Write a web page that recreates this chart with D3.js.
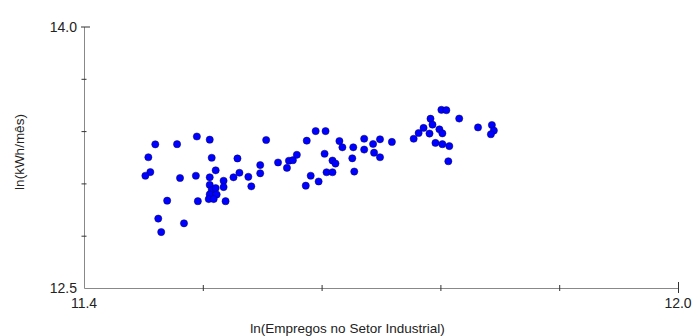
<!DOCTYPE html>
<html>
<head>
<meta charset="utf-8">
<script src="https://cdn.jsdelivr.net/npm/d3@7"></script>
<style>
  body { margin: 0; background: #fff; }
  text { font-family: "Liberation Sans", Arial, sans-serif; fill: #222; }
</style>
</head>
<body>
<div id="scatterPlot"></div>
<script>
// ln(empregos) vs ln(kWh/mes)
var empregos = [11.472, 11.494, 11.514, 11.527, 11.465, 11.529, 11.467, 11.462, 11.497, 11.513,
  11.527, 11.533, 11.541, 11.527, 11.529, 11.533, 11.541, 11.527, 11.534, 11.526,
  11.531, 11.484, 11.515, 11.543, 11.475, 11.501, 11.478, 11.551, 11.555, 11.557,
  11.566, 11.569, 11.578, 11.578, 11.584, 11.596, 11.605, 11.607, 11.611, 11.615,
  11.625, 11.634, 11.644, 11.643, 11.651, 11.654, 11.658, 11.661, 11.645, 11.651,
  11.629, 11.637, 11.624, 11.672, 11.671, 11.673, 11.683, 11.683, 11.692, 11.699,
  11.693, 11.699, 11.711, 11.733, 11.738, 11.743, 11.749, 11.750, 11.752, 11.759,
  11.762, 11.755, 11.762, 11.769, 11.768, 11.761, 11.766, 11.779, 11.798, 11.812,
  11.814, 11.811];
var kwh = [13.324, 13.325, 13.369, 13.351, 13.250, 13.247, 13.165, 13.144, 13.131, 13.144,
  13.135, 13.175, 13.115, 13.091, 13.062, 13.073, 13.079, 13.037, 13.036, 13.010,
  13.010, 13.001, 12.998, 12.998, 12.898, 12.871, 12.821, 13.135, 13.243, 13.161,
  13.138, 13.083, 13.205, 13.158, 13.349, 13.220, 13.189, 13.230, 13.233, 13.264,
  13.345, 13.400, 13.400, 13.270, 13.231, 13.214, 13.343, 13.307, 13.164, 13.164,
  13.144, 13.111, 13.087, 13.307, 13.244, 13.168, 13.356, 13.294, 13.326, 13.353,
  13.276, 13.250, 13.338, 13.356, 13.389, 13.418, 13.386, 13.471, 13.437, 13.410,
  13.387, 13.332, 13.325, 13.314, 13.227, 13.522, 13.520, 13.472, 13.421, 13.435,
  13.403, 13.382];

var xTicks = [11.4, 11.52, 11.64, 11.76, 11.88, 12.0];
var yTicks = [12.5, 12.8, 13.1, 13.4, 13.7, 14.0];
var xLabels = [11.4, 12.0];
var yLabels = [12.5, 14.0];

var w = 694, h = 336;

var svg = d3.select("#scatterPlot")
  .append("svg")
    .attr("width", w)
    .attr("height", h);

var x = d3.scaleLinear()
  .domain([11.4, 12.0])
  .range([84, 678]);

var y = d3.scaleLinear()
  .domain([12.5, 14.0])
  .range([288, 26.5]);

var data = empregos.map(function(d, i) { return {x: d, y: kwh[i]}; });

// axes
var xAxis = svg.append("g")
  .attr("transform", "translate(0," + y(12.5) + ")")
  .call(d3.axisBottom(x).tickValues(xTicks).tickSize(0).tickFormat(""));
xAxis.select(".domain").attr("stroke", "#888");
xAxis.selectAll(".tick line")
  .attr("stroke", "#333")
  .attr("y1", function(d) { return d == 12.0 ? -6 : -3; })
  .attr("y2", function(d) { return d == 12.0 ? 5 : 3; })
  .attr("display", function(d) { return d == 11.4 ? "none" : null; });

var yAxis = svg.append("g")
  .attr("transform", "translate(" + x(11.4) + ",0)")
  .call(d3.axisLeft(y).tickValues(yTicks).tickSize(0).tickFormat(""));
yAxis.select(".domain").attr("stroke", "#888");
yAxis.selectAll(".tick line")
  .attr("stroke", "#333")
  .attr("x1", function(d) { return d == 14.0 ? -3 : -2.5; })
  .attr("x2", function(d) { return d == 14.0 ? 6 : 2.5; })
  .attr("display", function(d) { return d == 12.5 ? "none" : null; });

// end labels
svg.selectAll(".xlab")
  .data(xLabels)
  .enter()
  .append("text")
  .attr("x", function(d) { return x(d); })
  .attr("y", 308)
  .attr("font-size", 14)
  .style("text-anchor", "middle")
  .text(function(d) { return d.toFixed(1); });

svg.selectAll(".ylab")
  .data(yLabels)
  .enter()
  .append("text")
  .attr("x", 77)
  .attr("y", function(d) { return y(d) + 5; })
  .attr("font-size", 14)
  .style("text-anchor", "end")
  .text(function(d) { return d.toFixed(1); });

svg.selectAll("circle")
  .data(data)
  .enter()
  .append("circle")
  .attr("cx", function(d) { return x(d.x); })
  .attr("cy", function(d) { return y(d.y); })
  .attr("r", 3.6)
  .attr("fill", "#0000ff")
  .attr("stroke", "#000066")
  .attr("stroke-width", 0.5);

svg.append("text")
  .attr("transform", "translate(24,152) rotate(-90)")
  .attr("font-size", 13.5)
  .style("text-anchor", "middle")
  .text("ln(kWh/mês)");

svg.append("text")
  .attr("x", 347.5)
  .attr("y", 333)
  .attr("font-size", 13.5)
  .style("text-anchor", "middle")
  .text("ln(Empregos no Setor Industrial)");
</script>
</body>
</html>
